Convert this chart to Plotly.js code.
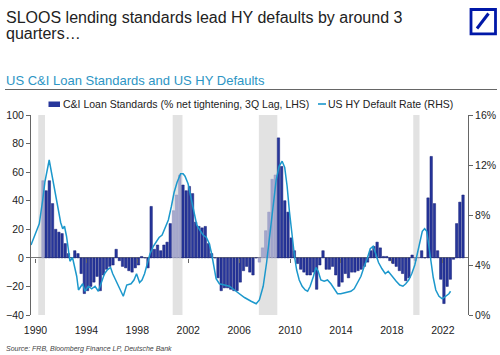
<!DOCTYPE html>
<html><head><meta charset="utf-8">
<script src="https://cdn.plot.ly/plotly-3.0.1.min.js"></script>
<style>html,body{margin:0;padding:0;background:#fff}#chart{width:500px;height:355px}</style>
</head><body><div id="chart"></div>
<script>
// ---- data ----
const titleLines = ["SLOOS lending standards lead HY defaults by around 3", "quarters…"];
const subtitle = "US C&I Loan Standards and US HY Defaults";
const barName = "C&I Loan Standards (% net tightening, 3Q Lag, LHS)";
const lineName = "US HY Default Rate (RHS)";
const sourceText = "Source: FRB, Bloomberg Finance LP, Deutsche Bank";

// quarterly C&I net tightening (3Q lag), first quarter position in decimal years
const barStart = 1990.59;
const barStep = 0.25;
const loanStandards = [
  54,47,54,38,20,18,17,10,3,0,
  5,3,-11,-25,-23,-20,-17,-13,-23,-12,
  -8,-6,-5,6,-2,-6,-7,-9,-10,-7,
  -5,1,0,-7,36,6,9,5,9,11,
  24,33,44,58,51,47,50,45,25,22,
  21,22,10,3,0,-14,-23,-21,-21,-22,
  -23,-23,-17,-9,-6,-10,-12,0,-3,7,
  19,32,55,58,84,64,40,32,14,5,
  -4,-8,-10,-12,-12,-10,-22,-5,5,-8,
  -8,-6,-12,-20,-17,-11,-14,-10,-10,-9,
  -8,-6,-3,5,8,11,7,1,1,-2,
  -4,-6,-9,-11,-16,-14,2,-2,0,5,
  0,42,71,38,5,-15,-32,-20,-15,-1,
  24,39,44
];

const defaultYears = [
  1989.65,1990.09,1990.30,1990.57,1990.75,1991.08,1991.35,1991.67,1991.98,1992.14,
  1992.28,1992.44,1992.59,1992.71,1992.91,1993.07,1993.24,1993.38,1993.55,1993.71,
  1993.89,1994.15,1994.42,1994.68,1994.94,1995.19,1995.42,1995.64,1995.90,1996.07,
  1996.33,1996.64,1996.90,1997.17,1997.51,1997.74,1997.94,1998.18,1998.37,1998.57,
  1998.77,1999.00,1999.26,1999.50,1999.71,1999.95,2000.18,2000.44,2000.68,2000.89,
  2001.12,2001.40,2001.60,2001.75,2001.99,2002.23,2002.46,2002.67,2002.91,2003.17,
  2003.43,2003.66,2003.84,2003.99,2004.19,2004.45,2004.84,2005.24,2005.63,2006.02,
  2006.42,2006.94,2007.34,2007.59,2007.89,2008.16,2008.44,2008.67,2008.91,2009.14,
  2009.38,2009.58,2009.77,2009.95,2010.17,2010.35,2010.52,2010.72,2010.95,2011.19,
  2011.38,2011.58,2011.84,2012.03,2012.21,2012.42,2012.68,2012.94,2013.21,2013.47,
  2013.73,2013.99,2014.39,2014.78,2015.04,2015.30,2015.57,2015.83,2016.06,2016.30,
  2016.53,2016.73,2016.95,2017.22,2017.48,2017.71,2017.99,2018.34,2018.62,2018.87,
  2019.09,2019.32,2019.56,2019.80,2020.02,2020.23,2020.39,2020.57,2020.74,2020.88,
  2021.05,2021.25,2021.45,2021.70,2021.96,2022.27,2022.48,2022.61
];
const defaultRate = [
  5.6,6.8,7.3,9.2,10.7,12.4,10.8,9.0,7.4,6.9,
  7.1,6.3,5.0,4.3,4.6,3.9,3.1,2.0,2.3,2.5,
  1.9,2.3,2.1,2.3,1.9,2.7,3.3,3.6,3.8,3.3,
  2.7,2.0,1.5,2.4,2.5,2.8,3.3,2.6,2.8,3.3,
  4.0,4.9,5.5,5.9,6.2,6.4,7.0,7.6,8.7,9.8,
  10.6,11.3,11.3,11.1,10.5,9.4,8.1,7.2,6.8,6.4,
  6.2,5.7,4.9,3.9,2.9,2.5,2.4,2.3,2.0,1.7,
  1.4,1.1,0.9,1.2,2.3,4.2,6.5,8.8,10.8,11.9,
  12.3,11.8,10.3,8.3,6.0,4.7,3.6,2.8,2.3,2.0,
  1.9,2.3,3.1,3.8,3.5,2.8,2.7,2.8,2.5,2.1,
  1.7,1.7,1.8,1.9,2.1,2.6,3.1,3.9,4.5,5.3,
  5.5,4.9,4.2,3.7,3.3,3.5,3.1,2.7,2.4,2.3,
  2.5,2.8,3.3,4.0,5.0,6.1,6.7,6.9,6.7,5.7,
  4.3,3.0,2.0,1.5,1.3,1.5,1.7,1.9
];

const recessionStart = [1990.22, 2000.78, 2007.55, 2019.68];
const recessionEnd   = [1990.75, 2001.55, 2009.00, 2020.17];

const xTickVals = [1990, 1994, 1998, 2002, 2006, 2010, 2014, 2018, 2022];
const leftTickVals = [-40, -20, 0, 20, 40, 60, 80, 100];
const rightTickVals = [0, 4, 8, 12, 16];
const rightTickText = ["0%", "4%", "8%", "12%", "16%"];

// ---- layout helpers ----
const W = 500, H = 355;
const M = {l: 31, r: 32, t: 115, b: 40};
const pw = W - M.l - M.r, ph = H - M.t - M.b;
const PX = x => (x - M.l) / pw;
const PY = y => (H - M.b - y) / ph;
const FONT = "Liberation Sans, Arial, Helvetica, sans-serif";
const NAVY = "#27369b", NAVY_EDGE = "#141e76";
const GREYBAR = "#a6a8cd", GREYBAR_EDGE = "#9094c0";
const CYAN = "#1c98cc";
const xRange = [1989.65, 2023.98];

const inRecession = x => recessionStart.some((s, k) => x >= s && x <= recessionEnd[k]);
const barX = loanStandards.map((_, i) => barStart + i * barStep);
const barColors = barX.map(x => inRecession(x) ? GREYBAR : NAVY);
const barEdges = barX.map(x => inRecession(x) ? GREYBAR_EDGE : NAVY_EDGE);

const traces = [
  {
    type: "bar", x: barX, y: loanStandards, width: 0.19,
    marker: {color: barColors, line: {color: barEdges, width: 0.5}},
    xaxis: "x", yaxis: "y", showlegend: false, hoverinfo: "skip", name: barName
  },
  {
    type: "scatter", mode: "lines", x: defaultYears, y: defaultRate,
    line: {color: CYAN, width: 1.5},
    xaxis: "x2", yaxis: "y2", showlegend: false, hoverinfo: "skip", name: lineName
  }
];

const shapes = recessionStart.map((s, k) => ({
  type: "rect", xref: "x", yref: "paper", x0: s, x1: recessionEnd[k], y0: 0, y1: 1,
  fillcolor: "#e2e2e2", line: {width: 0}, layer: "below"
}));
// separator under subtitle
shapes.push({type: "line", xref: "paper", yref: "paper", x0: PX(5), x1: PX(497), y0: PY(89.5), y1: PY(89.5), line: {color: "#666", width: 1}});
// legend symbols
shapes.push({type: "rect", xref: "paper", yref: "paper", x0: PX(48.5), x1: PX(60), y0: PY(107), y1: PY(101.5), fillcolor: NAVY, line: {width: 0}});
shapes.push({type: "line", xref: "paper", yref: "paper", x0: PX(318), x1: PX(326), y0: PY(104), y1: PY(104), line: {color: CYAN, width: 1.6}});
// logo
shapes.push({type: "rect", xref: "paper", yref: "paper", x0: PX(471), x1: PX(495.5), y0: PY(33.8), y1: PY(9.5), fillcolor: "#fff", line: {color: "#0018a8", width: 2.8}});
shapes.push({type: "line", xref: "paper", yref: "paper", x0: PX(477), x1: PX(488.5), y0: PY(28.5), y1: PY(13.5), line: {color: "#0018a8", width: 3}});

const ann = (text, x, y, size, color, extra) => Object.assign({
  text, xref: "paper", yref: "paper", x: PX(x), y: PY(y), xanchor: "left", yanchor: "middle",
  showarrow: false, font: {family: FONT, size, color}
}, extra || {});

const annotations = [
  ann(titleLines[0], 4, 17.5, 16, "#222"),
  ann(titleLines[1], 4, 33.5, 16, "#222"),
  ann(subtitle, 4, 80, 13, "#2d95c4"),
  ann(barName, 60.5, 104, 10.5, "#222"),
  ann(lineName, 326, 104, 10.5, "#222"),
  ann("<i>" + sourceText + "</i>", 4, 349, 7, "#444")
];

const tickFont = {family: FONT, size: 10.5, color: "#222"};
const layout = {
  width: W, height: H, margin: M,
  paper_bgcolor: "#fff", plot_bgcolor: "rgba(0,0,0,0)",
  font: {family: FONT},
  showlegend: false, bargap: 0,
  xaxis: {
    range: xRange, tickmode: "array", tickvals: xTickVals, ticks: "",
    showline: false, showgrid: false, zeroline: false, tickfont: tickFont,
    ticklabelstandoff: 7
  },
  xaxis2: {
    overlaying: "x", anchor: "free", position: 40 / 140, range: xRange,
    tickmode: "array", tickvals: xTickVals, ticks: "outside", ticklen: 4, tickcolor: "#666",
    showticklabels: false, showline: false, showgrid: false, zeroline: false
  },
  yaxis: {
    range: [-40, 100], tickmode: "array", tickvals: leftTickVals, ticks: "outside", ticklen: 4,
    tickcolor: "#666", showline: true, linecolor: "#666", linewidth: 1,
    zeroline: true, zerolinecolor: "#777", zerolinewidth: 1, showgrid: false, tickfont: tickFont
  },
  yaxis2: {
    overlaying: "y", side: "right", anchor: "free", position: 1, range: [0, 16],
    tickmode: "array", tickvals: rightTickVals, ticktext: rightTickText, ticks: "outside", ticklen: 4,
    tickcolor: "#666", showline: true, linecolor: "#666", linewidth: 1,
    zeroline: false, showgrid: false, tickfont: tickFont
  },
  shapes, annotations
};

Plotly.newPlot("chart", traces, layout, {displayModeBar: false, staticPlot: true});
</script>
</body></html>
